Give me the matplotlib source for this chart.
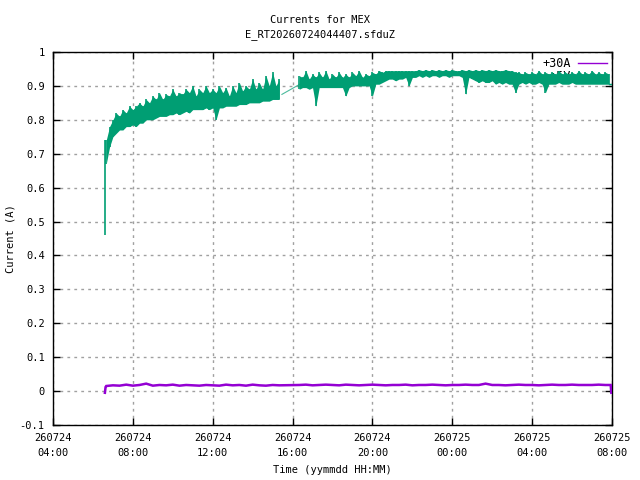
import matplotlib
matplotlib.use("Agg")
import matplotlib.pyplot as plt
import matplotlib.dates as mdates
from matplotlib.ticker import MultipleLocator
import datetime as dt

# ---------------- data ----------------
title_lines = ["Currents for MEX", "E_RT20260724044407.sfduZ"]
x_label = "Time (yymmdd HH:MM)"
y_label = "Current (A)"
legend_labels = ["+30A", "+5V"]

x_start = "2026-07-24 04:00"
x_end = "2026-07-25 08:00"
y_min, y_max = -0.1, 1.0

# green series: envelope (low/high) per 10-minute bin
green_start_spike_time = "2026-07-24 06:36"
green_start_spike = [0.46, 0.74]

green_seg1_start = "2026-07-24 06:40"
green_seg1_low = [0.67, 0.72, 0.75, 0.76, 0.77, 0.77, 0.78, 0.78, 0.785, 0.78,
                  0.79, 0.79, 0.80, 0.80, 0.80, 0.805, 0.81, 0.81, 0.81, 0.815,
                  0.815, 0.82, 0.815, 0.82, 0.825, 0.82, 0.83, 0.83, 0.83, 0.83,
                  0.835, 0.83, 0.835, 0.80, 0.835, 0.835, 0.84, 0.84, 0.84, 0.84,
                  0.845, 0.845, 0.845, 0.85, 0.85, 0.85, 0.85, 0.855, 0.855, 0.855,
                  0.86, 0.86, 0.86]
green_seg1_high = [0.74, 0.78, 0.80, 0.82, 0.81, 0.83, 0.82, 0.84, 0.83, 0.84,
                   0.85, 0.84, 0.86, 0.85, 0.87, 0.86, 0.88, 0.86, 0.875, 0.87,
                   0.89, 0.87, 0.88, 0.875, 0.89, 0.88, 0.90, 0.87, 0.89, 0.88,
                   0.90, 0.88, 0.89, 0.88, 0.90, 0.88, 0.895, 0.87, 0.90, 0.88,
                   0.91, 0.885, 0.90, 0.89, 0.92, 0.89, 0.91, 0.89, 0.93, 0.90,
                   0.94, 0.90, 0.92]
green_gap_times = ["2026-07-24 15:28", "2026-07-24 16:22"]
green_gap_values = [0.875, 0.905]

green_seg2_start = "2026-07-24 16:20"
green_seg2_low = [0.89, 0.895, 0.895, 0.89, 0.895, 0.84, 0.895, 0.895, 0.895, 0.895,
                  0.895, 0.895, 0.895, 0.895, 0.87, 0.895, 0.90, 0.90, 0.90, 0.90,
                  0.90, 0.90, 0.87, 0.905, 0.905, 0.91, 0.915, 0.92, 0.92, 0.915,
                  0.92, 0.92, 0.925, 0.90, 0.925, 0.925, 0.93, 0.925, 0.93, 0.925,
                  0.93, 0.93, 0.925, 0.93, 0.93, 0.925, 0.93, 0.93, 0.93, 0.925,
                  0.875, 0.925, 0.92, 0.915, 0.91, 0.915, 0.91, 0.91, 0.915, 0.905,
                  0.91, 0.905, 0.91, 0.905, 0.905, 0.88, 0.905, 0.91, 0.905, 0.91,
                  0.905, 0.905, 0.91, 0.905, 0.88, 0.905, 0.905, 0.905, 0.91, 0.905,
                  0.905, 0.905, 0.91, 0.905, 0.905, 0.905, 0.905, 0.905, 0.905, 0.905,
                  0.905, 0.905, 0.905, 0.905]
green_seg2_high = [0.93, 0.925, 0.945, 0.92, 0.935, 0.925, 0.94, 0.925, 0.945, 0.92,
                   0.935, 0.925, 0.94, 0.925, 0.935, 0.925, 0.94, 0.93, 0.945, 0.925,
                   0.935, 0.93, 0.94, 0.935, 0.945, 0.94, 0.945, 0.945, 0.945, 0.945,
                   0.945, 0.945, 0.945, 0.945, 0.945, 0.945, 0.948, 0.945, 0.948, 0.945,
                   0.948, 0.945, 0.948, 0.945, 0.948, 0.945, 0.948, 0.945, 0.945, 0.948,
                   0.945, 0.948, 0.945, 0.948, 0.945, 0.948, 0.945, 0.948, 0.945, 0.948,
                   0.945, 0.945, 0.948, 0.945, 0.945, 0.94, 0.94, 0.935, 0.94, 0.935,
                   0.94, 0.935, 0.945, 0.935, 0.94, 0.935, 0.94, 0.935, 0.945, 0.935,
                   0.94, 0.935, 0.94, 0.935, 0.945, 0.935, 0.94, 0.935, 0.945, 0.935,
                   0.94, 0.935, 0.94, 0.935]
green_end_time = "2026-07-25 07:58"
green_end_value = 0.905

# purple series: sampled every 20 minutes
purple_start_times = ["2026-07-24 06:36", "2026-07-24 06:38"]
purple_start_values = [-0.005, 0.012]
purple_seg1_start = "2026-07-24 06:40"
purple_seg1 = [0.015, 0.017, 0.016, 0.019, 0.016, 0.018, 0.022, 0.016, 0.018, 0.017,
               0.019, 0.016, 0.018, 0.017, 0.016, 0.018, 0.017, 0.016, 0.019, 0.017,
               0.018, 0.016, 0.019, 0.017, 0.016, 0.018, 0.017]
purple_seg2_start = "2026-07-24 16:20"
purple_seg2 = [0.018, 0.019, 0.017, 0.018, 0.019, 0.018, 0.017, 0.019, 0.018, 0.017,
               0.018, 0.019, 0.018, 0.017, 0.018, 0.018, 0.019, 0.017, 0.018, 0.018,
               0.019, 0.018, 0.017, 0.018, 0.018, 0.019, 0.018, 0.018, 0.022, 0.018,
               0.018, 0.017, 0.018, 0.019, 0.018, 0.018, 0.017, 0.018, 0.019, 0.018,
               0.018, 0.019, 0.018, 0.018, 0.018, 0.019, 0.018]
purple_end_times = ["2026-07-25 07:56", "2026-07-25 07:58"]
purple_end_values = [0.018, -0.005]

green = "#009e73"
purple = "#9400d3"

# ---------------- helpers ----------------
def T(s):
    return dt.datetime.strptime(s, "%Y-%m-%d %H:%M")

def bins(start, n, step_min, offset_min=0.0):
    t0 = T(start)
    return [t0 + dt.timedelta(minutes=step_min * i + offset_min) for i in range(n)]

plt.rcParams["font.family"] = ["DejaVu Sans Mono"]
plt.rcParams["font.size"] = 7.5

fig = plt.figure(figsize=(6.4, 4.8), dpi=100)
ax = fig.add_axes([53 / 640, 55 / 480, 559 / 640, 373 / 480])

# legend proxies (drawn under the data, like the reference)
h1, = ax.plot([], [], color=purple, lw=1, label=legend_labels[0])
h2, = ax.plot([], [], color=green, lw=1, label=legend_labels[1])
leg = ax.legend(handles=[h1, h2], loc="upper right", frameon=False,
                handlelength=2.5, handletextpad=0.6, borderaxespad=0.0,
                labelspacing=0.05, fontsize=8.5, markerfirst=False,
                bbox_to_anchor=(1.0, 1.0))
leg.set_zorder(1)

# green: filled low/high envelope + a one-pixel line per sample
t_sp = T(green_start_spike_time)
ax.vlines([t_sp], [green_start_spike[0]], [green_start_spike[1]], color=green, lw=1.2, zorder=3)
for start, lo, hi in [(green_seg1_start, green_seg1_low, green_seg1_high),
                      (green_seg2_start, green_seg2_low, green_seg2_high)]:
    assert len(lo) == len(hi)
    tt = bins(start, len(lo), 10)
    ax.fill_between(tt, lo, hi, color=green, lw=0, zorder=3)
    ax.vlines(tt, lo, hi, color=green, lw=1.2, zorder=3)
ax.plot([T(s) for s in green_gap_times], green_gap_values, color=green, lw=0.8, alpha=0.7, zorder=3)
tl = bins(green_seg2_start, len(green_seg2_low), 10)[-1]
ax.plot([tl, T(green_end_time)], [green_seg2_low[-1], green_end_value], color=green, lw=1, zorder=3)

# purple
pt = [T(s) for s in purple_start_times] + bins(purple_seg1_start, len(purple_seg1), 20) \
     + bins(purple_seg2_start, len(purple_seg2), 20) + [T(s) for s in purple_end_times]
pv = purple_start_values + purple_seg1 + purple_seg2 + purple_end_values
ax.plot(pt, pv, color=purple, lw=1.8, zorder=4, solid_joinstyle="miter")

# axes
ax.set_xlim(T(x_start), T(x_end))
ax.set_ylim(y_min, y_max)
ax.xaxis.set_major_locator(mdates.HourLocator(byhour=range(0, 24, 4)))
ax.xaxis.set_major_formatter(mdates.DateFormatter("%y%m%d\n%H:%M"))
ax.yaxis.set_major_locator(MultipleLocator(0.1))
ax.yaxis.set_major_formatter(plt.FuncFormatter(lambda v, p: "%g" % round(v, 2)))
ax.tick_params(direction="in", length=5, width=1, top=True, right=True, pad=6)
ax.tick_params(axis="x", pad=6)
for lbl in ax.get_xticklabels():
    lbl.set_horizontalalignment("center")
    lbl.set_linespacing(1.6)
for sp in ax.spines.values():
    sp.set_linewidth(1.0)
ax.grid(True, color="#a0a0a0", linestyle=(0, (2, 3)), lw=1.0)
ax.set_axisbelow(True)

ax.set_xlabel(x_label, labelpad=5)
ax.set_ylabel(y_label, labelpad=3)
fig.suptitle("\n".join(title_lines), y=0.968, fontsize=7.5, linespacing=1.5)

fig.savefig("out.png", dpi=100)
